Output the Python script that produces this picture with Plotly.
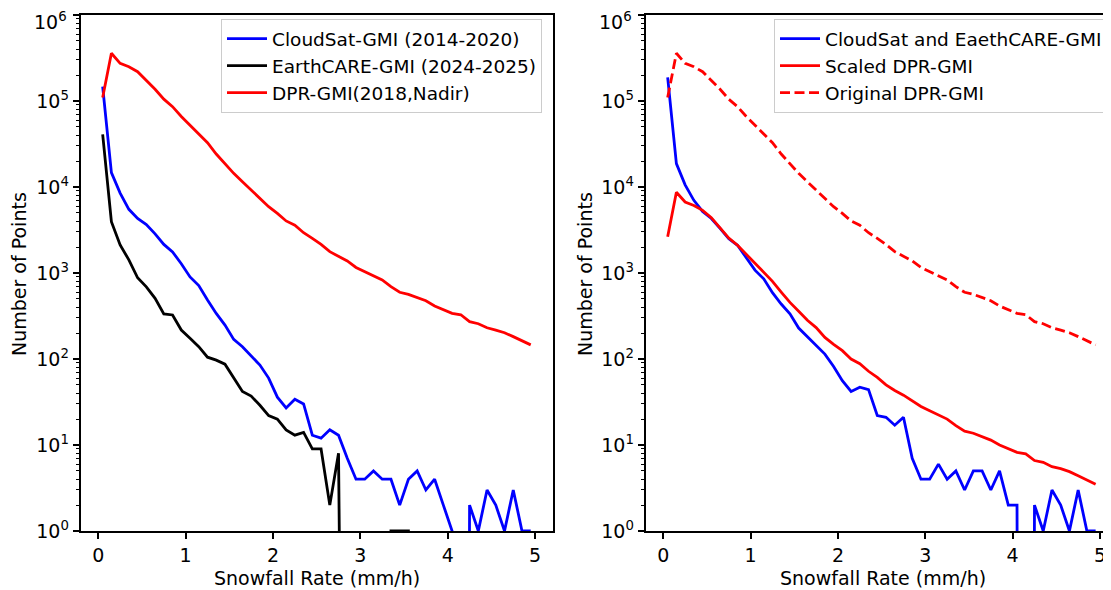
import plotly.graph_objects as go

# ---------------- data ----------------
snowfall_rate = [0.05, 0.15, 0.25, 0.35, 0.45, 0.55, 0.65, 0.75, 0.85, 0.95,
                 1.05, 1.15, 1.25, 1.35, 1.45, 1.55, 1.65, 1.75, 1.85, 1.95,
                 2.05, 2.15, 2.25, 2.35, 2.45, 2.55, 2.65, 2.75, 2.85, 2.95,
                 3.05, 3.15, 3.25, 3.35, 3.45, 3.55, 3.65, 3.75, 3.85, 3.95,
                 4.05, 4.15, 4.25, 4.35, 4.45, 4.55, 4.65, 4.75, 4.85, 4.95]

cloudsat_gmi = [147000, 14700, 8500, 5500, 4300, 3650, 2850, 2150, 1760, 1280,
                900, 715, 485, 339, 248, 169, 139, 108, 85, 60,
                36, 27, 34, 30, 13, 12, 15, 13, 7, 4,
                4, 5, 4, 4, 2, 4, 5, 3, 4, 2,
                1, 0, 2, 1, 3, 2, 1, 3, 1, 1]

earthcare_gmi = [41000, 3950, 2120, 1420, 880, 690, 508, 334, 325, 217,
                 174, 139, 105, 97, 87, 60, 42, 37, 29, 22,
                 20, 15, 13, 14, 9, 9, 2, 8, 0, 0,
                 0, 1, 0, 1, 1, 1, 0, 0, 1, 0,
                 1, 0, 0, 0, 0, 0, 0, 0, 0, 0]

dpr_gmi = [110000, 359000, 274000, 250000, 219000, 175000, 137000, 105000, 86000, 66000,
           52500, 42000, 32700, 24200, 18500, 14400, 11500, 9200, 7200, 5900,
           4940, 4030, 3590, 2940, 2530, 2150, 1770, 1580, 1380, 1160,
           1040, 931, 829, 693, 597, 565, 516, 476, 413, 371,
           340, 327, 272, 257, 231, 217, 202, 182, 163, 146]

cloudsat_earthcare_gmi = [188000, 18700, 10600, 7000, 5200, 4300, 3300, 2500, 2100, 1520,
                          1080, 855, 590, 436, 335, 229, 181, 145, 114, 82,
                          56, 42, 47, 44, 22, 21, 17, 21, 7, 4,
                          4, 6, 4, 5, 3, 5, 5, 3, 5, 2,
                          2, 0, 2, 1, 3, 2, 1, 3, 1, 1]

scaled_dpr_gmi = [2640, 8700, 6700, 6100, 5350, 4400, 3350, 2550, 2100, 1650,
                  1300, 1030, 800, 600, 455, 360, 282, 232, 178, 148,
                  125, 100, 88, 72, 61, 50, 43, 38, 33, 28,
                  25, 22.5, 20, 16.8, 14.5, 13.7, 12.6, 11.4, 10, 9,
                  8.2, 7.9, 6.6, 6.3, 5.6, 5.3, 4.9, 4.4, 3.9, 3.5]

x_ticks = [0, 1, 2, 3, 4, 5]
y_ticks = [1, 10, 100, 1000, 10000, 100000, 1000000]
y_ticktext = ["10<sup>0</sup>", "10<sup>1</sup>", "10<sup>2</sup>", "10<sup>3</sup>",
              "10<sup>4</sup>", "10<sup>5</sup>", "10<sup>6</sup>"]

left_names = ["CloudSat-GMI (2014-2020)", "EarthCARE-GMI (2024-2025)", "DPR-GMI(2018,Nadir)"]
right_names = ["CloudSat and EaethCARE-GMI", "Scaled DPR-GMI", "Original DPR-GMI"]
x_title = "Snowfall Rate (mm/h)"
y_title = "Number of Points"

# ---------------- figure ----------------
# the page body has an 8px margin, so the figure is laid out in
# screen pixels minus that offset
OFF = 8
W, H = 1111 - OFF, 590 - OFF
FONT = "DejaVu Sans"
FS = 19
LW = 2.8


def px(x):
    return (x - OFF) / W


def py(y):
    return 1 - (y - OFF) / H


def clip(vals):
    # mimic matplotlib's log-scale clipping of non-positive counts
    return [v if v > 0 else 1e-30 for v in vals]


fig = go.Figure()

left_series = [(cloudsat_gmi, "#0000ff", "solid"),
               (earthcare_gmi, "#000000", "solid"),
               (dpr_gmi, "#ff0000", "solid")]
for i, (vals, col, dash) in enumerate(left_series):
    fig.add_trace(go.Scatter(x=snowfall_rate, y=clip(vals), mode="lines",
                             name=left_names[i],
                             line=dict(color=col, width=LW, dash=dash),
                             xaxis="x", yaxis="y", legend="legend"))

right_series = [(cloudsat_earthcare_gmi, "#0000ff", "solid"),
                (scaled_dpr_gmi, "#ff0000", "solid"),
                (dpr_gmi, "#ff0000", "10px,4.5px")]
for i, (vals, col, dash) in enumerate(right_series):
    fig.add_trace(go.Scatter(x=snowfall_rate, y=clip(vals), mode="lines",
                             name=right_names[i],
                             line=dict(color=col, width=LW, dash=dash),
                             xaxis="x2", yaxis="y2", legend="legend2"))

ydom = [py(531), py(15)]
minor_vals = [m * 10 ** e for e in range(6) for m in range(2, 10)]
# the top label is drawn as an annotation so it is not clipped by the page edge
axis_ticktext = y_ticktext[:-1] + [""]

common_x = dict(tickvals=x_ticks, ticks="outside", ticklen=6.5, tickwidth=1.5,
                tickcolor="black", showline=True, linewidth=1.5, linecolor="black",
                showgrid=False, zeroline=False, automargin=False,
                ticklabeloverflow="allow",
                tickfont=dict(family=FONT, size=FS, color="black"))
common_y = dict(type="log", range=[0, 6], tickvals=y_ticks, ticktext=axis_ticktext,
                ticks="outside", ticklen=6.5, tickwidth=1.5, tickcolor="black",
                showline=True, linewidth=1.5, linecolor="black",
                showgrid=False, zeroline=False, automargin=False,
                ticklabeloverflow="allow",
                minor=dict(tickvals=minor_vals, ticks="outside", ticklen=3.7,
                           tickwidth=1.2, tickcolor="black", showgrid=False),
                tickfont=dict(family=FONT, size=FS, color="black"))

legend_common = dict(yanchor="top", y=py(19), xanchor="right",
                     bgcolor="rgba(255,255,255,0.8)", bordercolor="#cccccc",
                     borderwidth=1, itemwidth=40, tracegroupgap=0,
                     font=dict(family=FONT, size=18.5, color="black"))

fig.update_layout(
    template="none",
    width=W, height=H,
    margin=dict(l=0, r=0, t=0, b=0, autoexpand=False),
    paper_bgcolor="white", plot_bgcolor="white",
    font=dict(family=FONT, size=FS, color="black"),
    showlegend=True,
    xaxis=dict(domain=[px(81), px(553)], range=[-0.198, 5.205], mirror=True,
               anchor="y", **common_x),
    yaxis=dict(domain=ydom, mirror=True, anchor="x", **common_y),
    xaxis2=dict(domain=[px(646), 1.0], range=[-0.198, 5.126], mirror=True,
                anchor="y2", **common_x),
    yaxis2=dict(domain=ydom, mirror=False, anchor="x2", **common_y),
    legend=dict(x=px(542), **legend_common),
    legend2=dict(x=px(1108), **legend_common),
)

# top y tick labels (10^6)
for xr in (68, 633):
    fig.add_annotation(text=y_ticktext[-1], xref="paper", yref="paper",
                       x=px(xr), y=1.0, xanchor="right", yanchor="top",
                       showarrow=False, borderpad=0,
                       font=dict(family=FONT, size=FS, color="black"))

# axis titles
for xc in (317, 883):
    fig.add_annotation(text=x_title, xref="paper", yref="paper", x=px(xc), y=py(578),
                       xanchor="center", yanchor="middle", showarrow=False,
                       font=dict(family=FONT, size=FS, color="black"))
for xc in (19, 585):
    fig.add_annotation(text=y_title, xref="paper", yref="paper", x=px(xc), y=py(274),
                       xanchor="center", yanchor="middle", showarrow=False, textangle=-90,
                       font=dict(family=FONT, size=FS, color="black"))

fig.write_html("out.html")
